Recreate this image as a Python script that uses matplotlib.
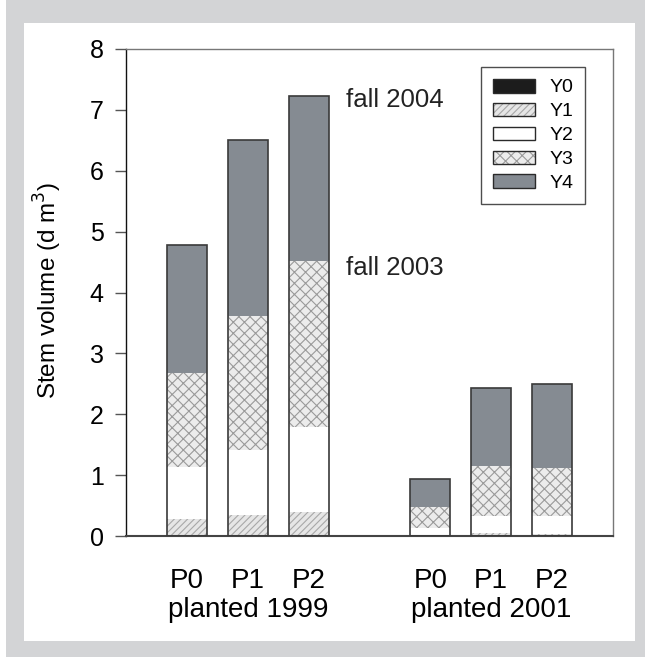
import matplotlib
matplotlib.use("Agg")
import matplotlib.pyplot as plt
from matplotlib.patches import Rectangle, Patch
from matplotlib.legend_handler import HandlerTuple
import matplotlib.transforms as mtrans
import numpy as np

plt.rcParams['font.family'] = ['Liberation Sans', 'DejaVu Sans']
plt.rcParams['hatch.linewidth'] = 0.8

tick_labels = ["P0", "P1", "P2", "P0", "P1", "P2"]
group_labels = ["planted 1999", "planted 2001"]
series = ["Y0", "Y1", "Y2", "Y3", "Y4"]
Y0 = [0.005, 0.005, 0.005, 0.003, 0.003, 0.003]
Y1 = [0.28, 0.34, 0.39, 0.02, 0.04, 0.03]
Y2 = [0.85, 1.07, 1.39, 0.11, 0.28, 0.30]
Y3 = [1.55, 2.20, 2.73, 0.34, 0.83, 0.79]
Y4 = [2.09, 2.89, 2.72, 0.47, 1.28, 1.38]
annotations = ["fall 2004", "fall 2003"]

positions = [0, 1, 2, 4, 5, 6]
styles = [
    dict(facecolor='#1c1c1c', hatch=None, hcol='#1c1c1c'),
    dict(facecolor='#e6e6e6', hatch='/////', hcol='#a8a8a8'),
    dict(facecolor='white', hatch=None, hcol='white'),
    dict(facecolor='#ececec', hatch='xxx', hcol='#9a9a9a'),
    dict(facecolor='#858b92', hatch=None, hcol='#858b92'),
]

fig = plt.figure(figsize=(6.45, 6.58), dpi=100)
fig.patch.set_facecolor('white')
W, H = 645, 658
fig.patches.append(Rectangle((6 / W, 1 / H), 639 / W, 657 / H, transform=fig.transFigure,
                             facecolor='#d3d4d6', edgecolor='none', zorder=-10))
fig.patches.append(Rectangle((24 / W, 17 / H), 611 / W, 618 / H, transform=fig.transFigure,
                             facecolor='white', edgecolor='none', zorder=-9))

ax = fig.add_axes([126 / W, 1 - 536 / H, 487 / W, 487 / H])
ax.set_facecolor('none')

data = [Y0, Y1, Y2, Y3, Y4]
width = 0.656
bottom = np.zeros(len(positions))
handles = []
for vals, st, name in zip(data, styles, series):
    v = np.array(vals)
    ax.bar(positions, v, width, bottom=bottom, color=st['facecolor'],
           hatch=st['hatch'], edgecolor=st['hcol'], linewidth=0, zorder=2)
    bottom = bottom + v
    h1 = Patch(facecolor=st['facecolor'], hatch=st['hatch'], edgecolor=st['hcol'], linewidth=0)
    h2 = Patch(facecolor='none', edgecolor='#2a2a2a', linewidth=1.0)
    handles.append((h1, h2))
# outlines
ax.bar(positions, bottom, width, color='none', edgecolor='#3a3a3a', linewidth=1.2, zorder=3)

ax.set_xlim(-1, 7)
ax.set_ylim(0, 8)
ax.set_yticks(range(0, 9))
ax.tick_params(axis='y', direction='out', length=8, width=1, pad=8, labelsize=18, color='#555555')
ax.set_xticks(positions)
ax.set_xticklabels(tick_labels)
ax.tick_params(axis='x', length=0, pad=23, labelsize=20)

for s in ['top', 'right']:
    ax.spines[s].set_color('#777777')
    ax.spines[s].set_linewidth(1.0)
ax.spines['left'].set_color('#111111')
ax.spines['left'].set_linewidth(1.0)
ax.spines['bottom'].set_color('#444444')
ax.spines['bottom'].set_linewidth(1.5)

trans = mtrans.blended_transform_factory(ax.transData, fig.transFigure)
ax.text(1, 1 - 610 / H, group_labels[0], transform=trans, ha='center', va='center', fontsize=20)
ax.text(5, 1 - 610 / H, group_labels[1], transform=trans, ha='center', va='center', fontsize=20)

ax.text(2.62, 7.16, annotations[0], ha='left', va='center', fontsize=18.5, color='#222222')
ax.text(2.62, 4.40, annotations[1], ha='left', va='center', fontsize=18.5, color='#222222')

fig.text(48 / W, 1 - 291 / H, "Stem volume (d m$^3$)", rotation=90, ha='center', va='center', fontsize=17.5)

leg = ax.legend(handles, series, loc='upper left', bbox_to_anchor=(0.729, 0.963),
                borderaxespad=0, fontsize=14, handlelength=2.2, handleheight=0.72,
                handletextpad=0.7, labelspacing=0.32, borderpad=0.6, fancybox=False,
                frameon=True, handler_map={tuple: HandlerTuple(ndivide=1, pad=0)})
leg.get_frame().set_edgecolor('#222222')
leg.get_frame().set_linewidth(1.0)

fig.savefig('out.png', dpi=100)
